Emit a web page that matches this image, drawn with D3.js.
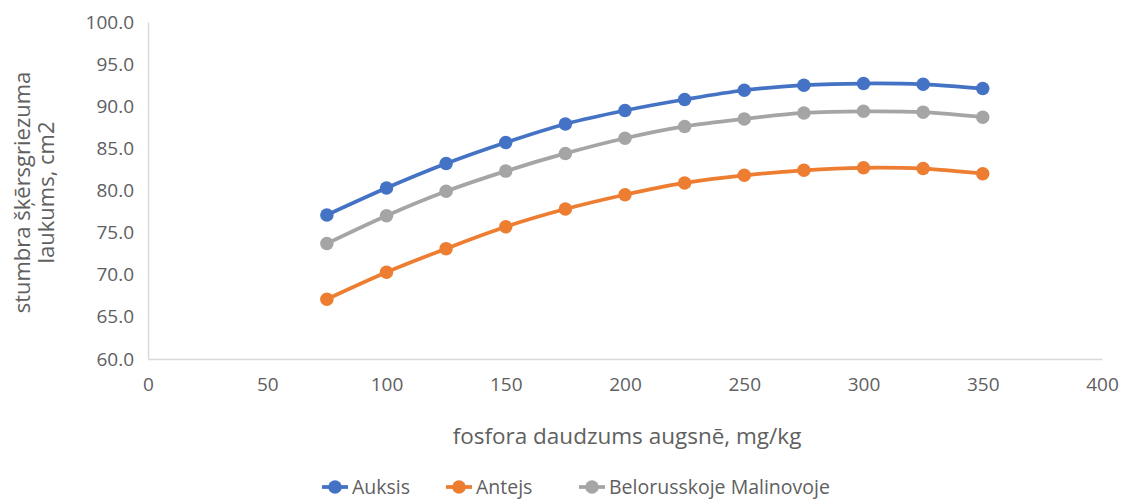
<!DOCTYPE html>
<html>
<head>
<meta charset="utf-8">
<script src="https://cdn.jsdelivr.net/npm/d3@7"></script>
<style>
  html, body { margin: 0; padding: 0; background: #fff; }
  svg { display: block; font-family: "Open Sans", sans-serif; }
</style>
</head>
<body>
<svg id="chart" width="1129" height="499"></svg>
<script>
// ---- data ----
const phosphorus = [75, 100, 125, 150, 175, 200, 225, 250, 275, 300, 325, 350];
const auksis = [77.1, 80.3, 83.2, 85.7, 87.9, 89.5, 90.8, 91.9, 92.5, 92.7, 92.6, 92.1];
const antejs = [67.1, 70.3, 73.1, 75.7, 77.8, 79.5, 80.9, 81.8, 82.4, 82.7, 82.6, 82.0];
const belorusskoje = [73.7, 77.0, 79.9, 82.3, 84.4, 86.2, 87.6, 88.5, 89.2, 89.4, 89.3, 88.7];
const seriesNames = ["Auksis", "Antejs", "Belorusskoje Malinovoje"];
const seriesColors = ["#4472C4", "#ED7D31", "#A5A5A5"];
const xTicks = [0, 50, 100, 150, 200, 250, 300, 350, 400];
const yTicks = [60, 65, 70, 75, 80, 85, 90, 95, 100];
const xTitle = "fosfora daudzums augsnē, mg/kg";
const yTitleLines = ["stumbra šķērsgriezuma", "laukums, cm2"];

const seriesValues = [auksis, antejs, belorusskoje];
const series = seriesNames.map((name, i) => ({
  name, color: seriesColors[i],
  points: phosphorus.map((xv, j) => ({ x: xv, y: seriesValues[i][j] }))
}));

// ---- layout ----
const svg = d3.select("#chart");
const plotL = 148, plotR = 1102, plotT = 22, plotB = 359;
const textColor = "#606060";
const axisColor = "#D9D9D9";

const x = d3.scaleLinear().domain([0, 400]).range([plotL, plotR]);
const y = d3.scaleLinear().domain([60, 100]).range([plotB, plotT]);

// axes
const xAxis = svg.append("g").attr("transform", `translate(0,${plotB})`)
  .call(d3.axisBottom(x).tickValues(xTicks).tickSize(0).tickPadding(19).tickFormat(d3.format("d")));
const yAxis = svg.append("g").attr("transform", `translate(${plotL},0)`)
  .call(d3.axisLeft(y).tickValues(yTicks).tickSize(0).tickPadding(14).tickFormat(d3.format(".1f")));
[xAxis, yAxis].forEach(g => {
  g.select(".domain").attr("stroke", axisColor).attr("stroke-width", 1.5);
  g.selectAll("text").attr("fill", textColor).style("font-size", "19px").style("font-family", '"Open Sans", sans-serif');
});

// axis titles
svg.append("text")
  .attr("x", (plotL + plotR) / 2 + 2).attr("y", 444)
  .attr("text-anchor", "middle").attr("fill", textColor)
  .style("font-size", "22.5px")
  .text(xTitle);

const yt = svg.append("text")
  .attr("transform", `translate(0,${(plotT + plotB) / 2 + 2}) rotate(-90)`)
  .attr("text-anchor", "middle").attr("fill", textColor)
  .style("font-size", "22px");
yTitleLines.forEach((t, i) => {
  yt.append("tspan").attr("x", 0).attr("y", 30 + i * 24).text(t);
});

// lines
const line = d3.line().x(d => x(d.x)).y(d => y(d.y)).curve(d3.curveCatmullRom.alpha(0.5));
const sg = svg.append("g").selectAll("g").data(series).join("g");
sg.append("path")
  .attr("d", d => line(d.points))
  .attr("fill", "none").attr("stroke", d => d.color).attr("stroke-width", 3.75)
  .attr("stroke-linecap", "round");
sg.selectAll("circle").data(d => d.points.map(p => ({ ...p, color: d.color }))).join("circle")
  .attr("cx", d => x(d.x)).attr("cy", d => y(d.y)).attr("r", 6.75)
  .attr("fill", d => d.color);

// legend
const legendX = [335, 459, 592];
const lg = svg.append("g").selectAll("g").data(series).join("g")
  .attr("transform", (d, i) => `translate(${legendX[i]},487)`);
lg.append("line").attr("x1", -13).attr("x2", 13).attr("stroke", d => d.color).attr("stroke-width", 3.75);
lg.append("circle").attr("r", 6.75).attr("fill", d => d.color);
lg.append("text").attr("x", 17).attr("dy", "0.35em").attr("fill", textColor)
  .style("font-size", "19.5px").text(d => d.name);
</script>
</body>
</html>
